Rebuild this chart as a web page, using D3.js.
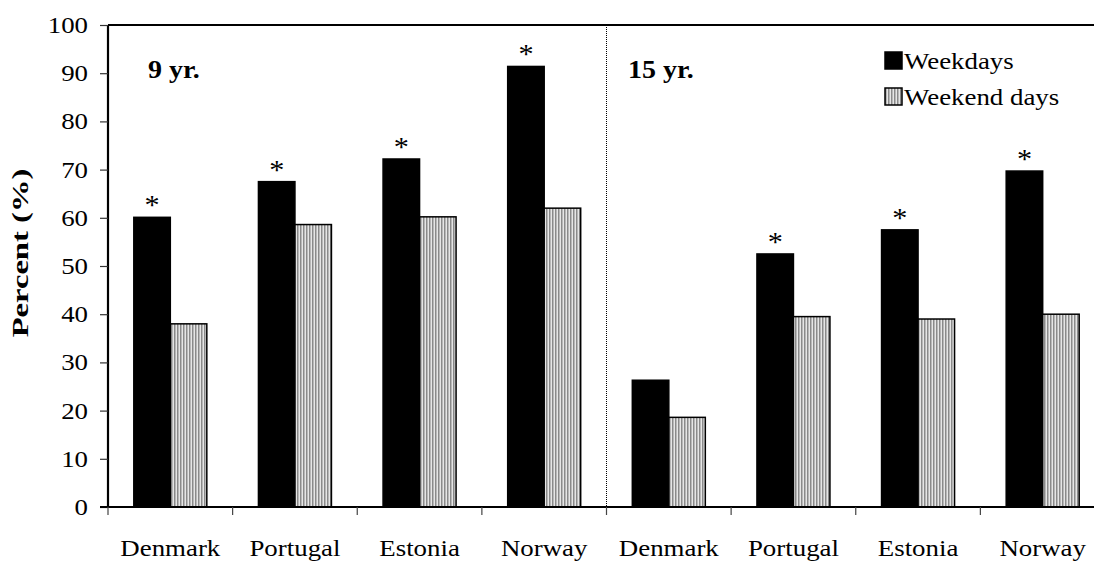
<!DOCTYPE html>
<html><head><meta charset="utf-8">
<script src="https://cdn.jsdelivr.net/npm/d3@7"></script>
<style>body{margin:0;background:#fff}svg{display:block}</style>
</head><body>
<svg id="c" width="1094" height="561"></svg>
<script>
const categories = ["Denmark","Portugal","Estonia","Norway","Denmark","Portugal","Estonia","Norway"];
const groups = ["9 yr.","15 yr."];
const weekdays = [60.1, 67.5, 72.2, 91.4, 26.3, 52.5, 57.5, 69.7];
const weekend = [38.0, 58.6, 60.2, 62.0, 18.6, 39.5, 39.0, 40.0];
const significant = [true, true, true, true, false, true, true, true];
const series = ["Weekdays","Weekend days"];
const yTicks = [0,10,20,30,40,50,60,70,80,90,100];

(function(){
const svg = d3.select("#c");
const pL = 108, pR = 1105, pT = 25, pB = 507;
const font = "'Liberation Serif', 'Times New Roman', serif";
const SX = 1.12;

function txt(parent, x, y, s, size, anchor, bold) {
  return parent.append("text").attr("transform",`translate(${x},${y}) scale(${SX},1)`)
    .attr("text-anchor",anchor||"start").attr("font-family",font).attr("font-size",size)
    .attr("font-weight",bold?"bold":"normal").attr("fill","#000").text(s);
}

const defs = svg.append("defs");
const pat = defs.append("pattern").attr("id","stripes").attr("patternUnits","userSpaceOnUse")
  .attr("width",3).attr("height",10);
pat.append("rect").attr("width",3).attr("height",10).attr("fill","#e6e6e6");
pat.append("rect").attr("width",1.5).attr("height",10).attr("fill","#8a8a8a");

const x = d3.scaleBand().domain(d3.range(categories.length)).range([pL,pR]).paddingInner(0).paddingOuter(0);
const y = d3.scaleLinear().domain([0,100]).range([pB,pT]);
const bw = 36.5;

svg.append("line").attr("x1",pL).attr("x2",pR).attr("y1",pT).attr("y2",pT)
  .attr("stroke","#000").attr("stroke-width",2);

svg.append("line").attr("x1",x(4)).attr("x2",x(4)).attr("y1",pT).attr("y2",pB)
  .attr("stroke","#000").attr("stroke-width",1).attr("stroke-dasharray","1,1");

const g = svg.append("g");
categories.forEach((c,i)=>{
  const cx = x(i) + x.bandwidth()/2;
  g.append("rect").attr("x",cx-bw).attr("y",y(weekdays[i])).attr("width",bw).attr("height",y(0)-y(weekdays[i]))
    .attr("fill","#000").attr("stroke","#000").attr("stroke-width",1.5);
  g.append("rect").attr("x",cx).attr("y",y(weekend[i])).attr("width",bw).attr("height",y(0)-y(weekend[i]))
    .attr("fill","url(#stripes)").attr("stroke","#000").attr("stroke-width",1.5);
  if (significant[i]) {
    txt(g, cx-bw/2, y(weekdays[i])-3, "*", 27, "middle");
  }
});

const yAxis = svg.append("g").attr("transform",`translate(${pL},0)`)
  .call(d3.axisLeft(y).tickValues(yTicks).tickSize(8).tickFormat(""));
yAxis.select(".domain").attr("stroke","#000").attr("stroke-width",2.2).attr("d",`M0,${pB}V${pT}`);
yAxis.selectAll(".tick line").attr("stroke","#333").attr("stroke-width",1.2);
yTicks.forEach(v => txt(svg, pL-20, y(v)+8, String(v), 24, "end"));

const xb = svg.append("g").attr("transform",`translate(0,${pB})`);
xb.append("line").attr("x1",pL-8).attr("x2",pR).attr("stroke","#000").attr("stroke-width",2);
const bounds = d3.range(categories.length+1).map(i=> pL + i*x.bandwidth());
xb.selectAll("line.t").data(bounds).join("line").attr("class","t")
  .attr("x1",d=>d).attr("x2",d=>d).attr("y1",0).attr("y2",8).attr("stroke","#444").attr("stroke-width",1.2);
categories.forEach((c,i)=> txt(xb, x(i)+x.bandwidth()/2, 49, c, 24, "middle"));

svg.append("text").attr("transform",`translate(28,253) rotate(-90) scale(1.36,1)`)
  .attr("text-anchor","middle").attr("font-family",font).attr("font-weight","bold").attr("font-size",24)
  .text("Percent (%)");

txt(svg, 148, 78, groups[0], 25, "start", true);
txt(svg, 628, 78, groups[1], 25, "start", true);

const leg = svg.append("g");
const fills = ["#000","url(#stripes)"];
series.forEach((s,i)=>{
  const ly = 52 + i*36;
  leg.append("rect").attr("x",885).attr("y",ly).attr("width",17).attr("height",17)
    .attr("fill",fills[i]).attr("stroke","#000").attr("stroke-width",1.5);
  txt(leg, 904, ly+17, s, 24, "start");
});
})();
</script>
</body></html>
